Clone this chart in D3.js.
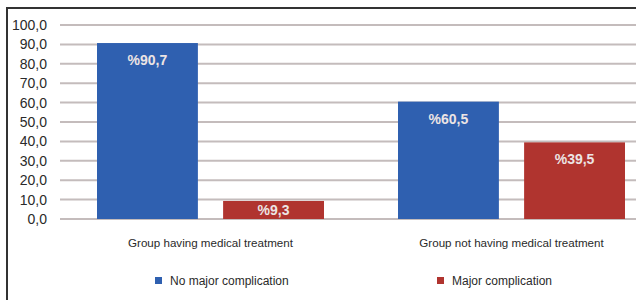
<!DOCTYPE html>
<html>
<meta charset="utf-8">
<style>
    body { margin: 0; background: #fff; }
    text { font-family: "Liberation Sans", Arial, sans-serif; }
    .grid line { stroke: #c4bcbc; stroke-width: 2px; }
</style>
<body>
<script src="https://d3js.org/d3.v7.min.js"></script>
<script>

    // data
    var categories = ["Group having medical treatment", "Group not having medical treatment"];
    var seriesNames = ["No major complication", "Major complication"];
    var noMajor = [90.7, 60.5];
    var major = [9.3, 39.5];
    var yTicks = [0, 10, 20, 30, 40, 50, 60, 70, 80, 90, 100];
    var colors = ["#2f60b0", "#b0342f"];

    var W = 636, H = 300;
    var margin = { top: 25, left: 60, bottom: 81 };
    var plotW = 602, plotH = H - margin.top - margin.bottom;

    var svg = d3.select("body").append("svg")
        .attr("width", W)
        .attr("height", H);

    // frame
    svg.append("path")
        .attr("d", "M7,300 V8 H636")
        .attr("fill", "none")
        .attr("stroke", "#333")
        .attr("stroke-width", 2);

    var g = svg.append("g")
        .attr("transform", "translate(" + margin.left + "," + margin.top + ")");

    var x0 = d3.scaleBand().domain(categories).range([0, plotW])
        .paddingInner(0).paddingOuter(0);
    var x1 = d3.scaleBand().domain(seriesNames).range([37, 264]).paddingInner(0.2);
    var y = d3.scaleLinear().domain([0, 100]).range([plotH, 0]);

    // grid lines
    g.append("g")
        .attr("class", "grid")
        .selectAll("line")
        .data(yTicks)
        .enter().append("line")
        .attr("x1", 0)
        .attr("x2", plotW)
        .attr("y1", function (d) { return y(d); })
        .attr("y2", function (d) { return y(d); });

    // y axis labels
    var fmt = function (d) { return d.toFixed(1).replace(".", ","); };
    var yAxis = g.append("g")
        .attr("transform", "translate(-13,0)")
        .call(d3.axisLeft(y).tickValues(yTicks).tickFormat(fmt).tickSize(0).tickPadding(0));
    yAxis.select(".domain").remove();
    yAxis.selectAll("text")
        .attr("font-size", "14px")
        .attr("fill", "#2a2a2a")
        .attr("font-family", "Liberation Sans, Arial, sans-serif");

    // bars
    var rows = categories.map(function (c, i) {
        return [
            { cat: c, key: seriesNames[0], value: noMajor[i], color: colors[0] },
            { cat: c, key: seriesNames[1], value: major[i], color: colors[1] }
        ];
    });

    var groups = g.selectAll(".grp")
        .data(rows)
        .enter().append("g")
        .attr("class", "grp")
        .attr("transform", function (d, i) { return "translate(" + x0(categories[i]) + ",0)"; });

    groups.selectAll("rect")
        .data(function (d) { return d; })
        .enter().append("rect")
        .attr("x", function (d) { return x1(d.key); })
        .attr("width", x1.bandwidth())
        .attr("y", function (d) { return y(d.value); })
        .attr("height", function (d) { return plotH - y(d.value); })
        .attr("fill", function (d) { return d.color; });

    // value labels
    groups.selectAll(".val")
        .data(function (d) { return d; })
        .enter().append("text")
        .attr("class", "val")
        .attr("x", function (d) { return x1(d.key) + x1.bandwidth() / 2; })
        .attr("y", function (d) {
            var top = y(d.value);
            return Math.min(top + 17, (top + plotH) / 2) + 5;
        })
        .attr("text-anchor", "middle")
        .attr("font-size", "14px")
        .attr("font-weight", "bold")
        .attr("fill", "#ece4e4")
        .text(function (d) { return "%" + d.value.toFixed(1).replace(".", ","); });

    // category labels
    g.selectAll(".cat")
        .data(categories)
        .enter().append("text")
        .attr("class", "cat")
        .attr("x", function (d) { return x0(d) + 37 + 227 / 2; })
        .attr("y", plotH + 28)
        .attr("text-anchor", "middle")
        .attr("font-size", "11.6px")
        .attr("fill", "#2a2a2a")
        .text(function (d) { return d; });

    // legend
    var legendX = [155, 437];
    var legend = svg.selectAll(".leg")
        .data(seriesNames)
        .enter().append("g")
        .attr("class", "leg")
        .attr("transform", function (d, i) { return "translate(" + legendX[i] + ",281)"; });
    legend.append("rect")
        .attr("x", 0).attr("y", -4)
        .attr("width", 7).attr("height", 7)
        .attr("fill", function (d, i) { return colors[i]; });
    legend.append("text")
        .attr("x", 15)
        .attr("y", 4)
        .attr("font-size", "12px")
        .attr("fill", "#2a2a2a")
        .text(function (d) { return d; });

</script>
</body>
</html>
